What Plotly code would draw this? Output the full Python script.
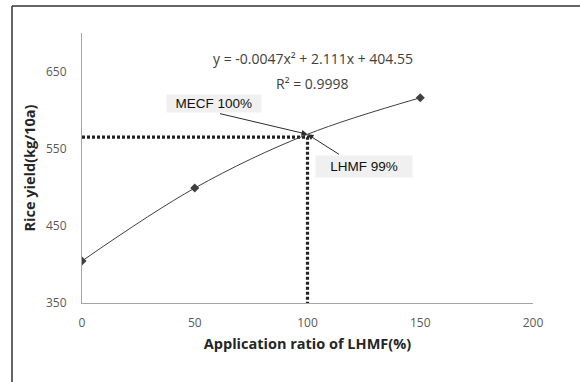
import plotly.graph_objects as go

# Data
ratio = [0, 50, 100, 150]
yield_kg = [404.5, 499, 568.7, 616]
x_ticks = [0, 50, 100, 150, 200]
y_ticks = [350, 450, 550, 650]
ref_x = 100
ref_y = 565
equation = "y = -0.0047x² + 2.111x + 404.55"
r2 = "R² = 0.9998"
FONT = "Open Sans"
LBL_FONT = "Liberation Sans"

fig = go.Figure()

# reference dotted lines
fig.add_trace(go.Scatter(x=[0, ref_x, ref_x], y=[ref_y, ref_y, 350], mode="lines",
                         line=dict(color="#222222", width=3.2, dash="3px,2px"),
                         hoverinfo="skip", showlegend=False))

# smooth curve + markers
fig.add_trace(go.Scatter(x=ratio, y=yield_kg, mode="lines", line_shape="spline",
                         line=dict(color="#404040", width=1), showlegend=False))
fig.add_trace(go.Scatter(x=[ratio[0], ratio[1], ratio[3]], y=[yield_kg[0], yield_kg[1], yield_kg[3]],
                         mode="markers",
                         marker=dict(symbol="diamond", size=7, color="#404040"), showlegend=False))

fig.update_layout(
    width=580, height=382,
    margin=dict(l=82, r=47, t=33, b=79, autoexpand=False),
    paper_bgcolor="white", plot_bgcolor="white",
    font=dict(family=FONT, size=12, color="#595959"),
    xaxis=dict(range=[0, 200], tickvals=x_ticks, showgrid=False, zeroline=False, automargin=False,
               showline=True, linecolor="#a6a6a6", linewidth=1, ticks="outside", ticklen=9,
               tickcolor="rgba(0,0,0,0)",
               title=dict(text="<b>Application ratio of LHMF(%)</b>", standoff=8,
                          font=dict(size=14.5, color="#262626", family=FONT)),
               tickfont=dict(size=12, color="#595959")),
    yaxis=dict(range=[350, 700], tickvals=y_ticks, showgrid=False, zeroline=False, automargin=False,
               showline=True, linecolor="#a6a6a6", linewidth=1, ticks="outside", ticklen=12,
               tickcolor="rgba(0,0,0,0)",
               title=dict(text="<b>Rice yield(kg/10a)</b>", standoff=6,
                          font=dict(size=14.5, color="#262626", family=FONT)),
               tickfont=dict(size=12, color="#595959")),
    annotations=[
        dict(x=102.4, y=667, xref="x", yref="y", text=equation, showarrow=False,
             font=dict(size=14, color="#404040")),
        dict(x=102.4, y=635, xref="x", yref="y", text=r2, showarrow=False,
             font=dict(size=14, color="#404040")),
        # labels
        dict(x=58.5, y=608, xref="x", yref="y", text="  MECF 100%  ", showarrow=False,
             bgcolor="#f0f0f0", borderpad=1, font=dict(size=13.5, color="#111111", family=LBL_FONT)),
        dict(x=125, y=527.5, xref="x", yref="y", text="   LHMF 99%   ", showarrow=False,
             bgcolor="#f0f0f0", borderpad=3, font=dict(size=13.5, color="#111111", family=LBL_FONT)),
        # arrows
        dict(x=ratio[2], y=yield_kg[2], xref="x", yref="y", text="", showarrow=True,
             ax=-89, ay=-21, arrowhead=2, arrowsize=1.2, arrowwidth=1, arrowcolor="#2b2b2b"),
        dict(x=ratio[2], y=yield_kg[2], xref="x", yref="y", text="", showarrow=True,
             ax=33, ay=21, arrowhead=2, arrowsize=1.2, arrowwidth=1, arrowcolor="#2b2b2b"),
    ],
    shapes=[
        dict(type="line", xref="paper", yref="paper", x0=-70 / 451, x1=1.2,
             y0=1 + 27 / 270, y1=1 + 27 / 270, line=dict(color="#333333", width=1.5)),
        dict(type="line", xref="paper", yref="paper", x0=-70 / 451, x1=-70 / 451,
             y0=1 + 27 / 270, y1=-0.4, line=dict(color="#333333", width=1.5)),
    ],
)

fig.write_html("out.html", config={"displayModeBar": False},
               post_script="document.body.style.margin='0';document.body.style.overflow='hidden';")
